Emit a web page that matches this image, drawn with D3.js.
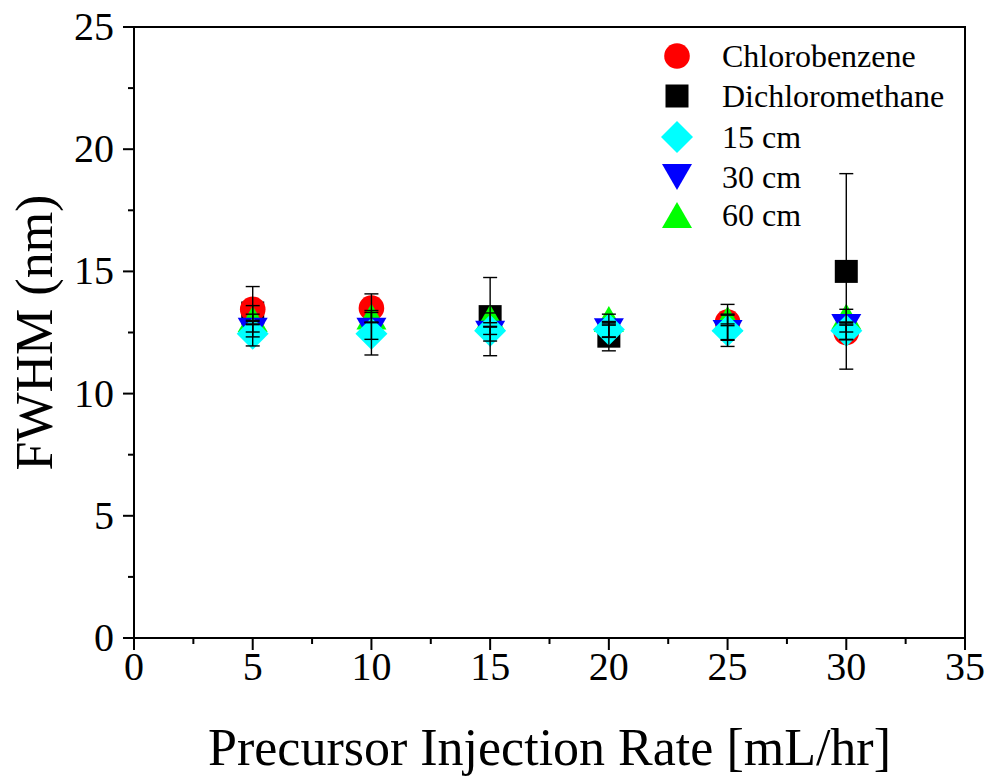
<!DOCTYPE html>
<html>
<head>
<meta charset="utf-8">
<script src="https://cdn.jsdelivr.net/npm/d3@7"></script>
<style>
  body { margin: 0; background: #fff; }
  svg { display: block; font-family: "Liberation Serif", "Times New Roman", serif; }
</style>
</head>
<body>
<div class="chart"></div>
<script>
// injection rates (mL/hr)
var rates = [5, 10, 15, 20, 25, 30];

// FWHM (nm) per series, null = no point
var chlorobenzene = [13.45, 13.5, null, null, 12.93, 12.5];
var dichloromethane = [13.3, null, 13.15, 12.35, null, 15.0];
var cm15 = [12.45, 12.45, 12.57, 12.62, 12.57, 12.57];
var cm30 = [12.57, 12.57, 12.45, 12.55, 12.48, 12.72];
var cm60 = [13.05, 13.15, 13.1, 13.05, 13.05, 13.15];

// error (±) per series
var chlorobenzeneErr = [0.93, 0.58, null, null, 0.72, 0.3];
var dichloromethaneErr = [0.3, null, 1.6, 0.6, null, 4.0];
var cm15Err = [0.5, 0.87, 0.15, 0.3, 0.64, 0.35];
var cm30Err = [0.25, 0.35, 0.3, 0.25, 0.3, 0.2];
var cm60Err = [0.2, 0.25, 0.2, 0.2, 0.2, 0.3];

var xTicks = [0, 5, 10, 15, 20, 25, 30, 35];
var yTicks = [0, 5, 10, 15, 20, 25];

var legendNames = ["Chlorobenzene", "Dichloromethane", "15 cm", "30 cm", "60 cm"];

var series = [
  {name: "Chlorobenzene", vals: chlorobenzene, err: chlorobenzeneErr, shape: "circle", color: "#ff0000"},
  {name: "Dichloromethane", vals: dichloromethane, err: dichloromethaneErr, shape: "square", color: "#000000"},
  {name: "15 cm", vals: cm15, err: cm15Err, shape: "diamond", color: "#00ffff"},
  {name: "30 cm", vals: cm30, err: cm30Err, shape: "down", color: "#0000ff"},
  {name: "60 cm", vals: cm60, err: cm60Err, shape: "up", color: "#00ff00"}
];
// drawing order (back to front)
var drawOrder = ["Dichloromethane", "Chlorobenzene", "60 cm", "30 cm", "15 cm"];

var width = 991, height = 776;
var margin = {top: 27, right: 26, bottom: 138, left: 134};

var svg = d3.select(".chart")
  .append("svg")
  .attr("width", width)
  .attr("height", height);

var x = d3.scaleLinear()
  .domain([0, 35])
  .range([margin.left, width - margin.right]);

var y = d3.scaleLinear()
  .domain([0, 25])
  .range([height - margin.bottom, margin.top]);

function shapePath(shape){
  if (shape == "circle"){
    return d3.symbol().type(d3.symbolCircle).size(Math.PI * 12.8 * 12.8)();
  } else if (shape == "square"){
    return "M-11.5,-11.5H11.5V11.5H-11.5Z";
  } else if (shape == "diamond"){
    return "M0,-16L16,0L0,16L-16,0Z";
  } else if (shape == "down"){
    return "M-15,-13H15L0,13Z";
  } else {
    return "M0,-13L15,13H-15Z";
  };
};

// minor ticks
var xMinor = d3.range(2.5, 35, 5);
var yMinor = d3.range(2.5, 25, 5);

var axes = svg.append("g").attr("class", "axes");

axes.selectAll(".xmaj")
  .data(xTicks)
  .enter()
  .append("line")
  .attr("x1", function(d){ return x(d); })
  .attr("x2", function(d){ return x(d); })
  .attr("y1", y(0))
  .attr("y2", y(0) + 12)
  .attr("stroke", "#000")
  .attr("stroke-width", 2);

axes.selectAll(".xmin")
  .data(xMinor)
  .enter()
  .append("line")
  .attr("x1", function(d){ return x(d); })
  .attr("x2", function(d){ return x(d); })
  .attr("y1", y(0))
  .attr("y2", y(0) + 6)
  .attr("stroke", "#000")
  .attr("stroke-width", 2);

axes.selectAll(".ymaj")
  .data(yTicks)
  .enter()
  .append("line")
  .attr("x1", x(0) - 11)
  .attr("x2", x(0))
  .attr("y1", function(d){ return y(d); })
  .attr("y2", function(d){ return y(d); })
  .attr("stroke", "#000")
  .attr("stroke-width", 2);

axes.selectAll(".ymin")
  .data(yMinor)
  .enter()
  .append("line")
  .attr("x1", x(0) - 6)
  .attr("x2", x(0))
  .attr("y1", function(d){ return y(d); })
  .attr("y2", function(d){ return y(d); })
  .attr("stroke", "#000")
  .attr("stroke-width", 2);

// frame
axes.append("rect")
  .attr("x", x(0))
  .attr("y", y(25))
  .attr("width", x(35) - x(0))
  .attr("height", y(0) - y(25))
  .attr("fill", "none")
  .attr("stroke", "#000")
  .attr("stroke-width", 2);

axes.selectAll(".xlab")
  .data(xTicks)
  .enter()
  .append("text")
  .attr("x", function(d){ return x(d); })
  .attr("y", y(0) + 42)
  .attr("text-anchor", "middle")
  .style("font-size", "40px")
  .text(function(d){ return d; });

axes.selectAll(".ylab")
  .data(yTicks)
  .enter()
  .append("text")
  .attr("x", x(0) - 20)
  .attr("y", function(d){ return y(d) + 13; })
  .attr("text-anchor", "end")
  .style("font-size", "40px")
  .text(function(d){ return d; });

svg.append("text")
  .attr("x", (x(0) + x(35)) / 2)
  .attr("y", 765)
  .attr("text-anchor", "middle")
  .style("font-size", "52px")
  .text("Precursor Injection Rate [mL/hr]");

svg.append("text")
  .attr("transform", "translate(52," + ((y(0) + y(25)) / 2) + ") rotate(-90)")
  .attr("text-anchor", "middle")
  .style("font-size", "52px")
  .text("FWHM (nm)");

// markers
var plot = svg.append("g").attr("class", "plot");

drawOrder.forEach(function(name){
  var s = series.filter(function(d){ return d.name == name; })[0];
  var pts = rates.map(function(r, i){
    return {x: r, y: s.vals[i], e: s.err[i]};
  }).filter(function(d){ return d.y != null; });

  plot.selectAll(".pt-" + s.shape)
    .data(pts)
    .enter()
    .append("path")
    .attr("transform", function(d){ return "translate(" + x(d.x) + "," + y(d.y) + ")"; })
    .attr("d", shapePath(s.shape))
    .attr("fill", s.color);
});

// error bars on top
var bars = svg.append("g").attr("class", "errorbars");
series.forEach(function(s){
  var pts = rates.map(function(r, i){
    return {x: r, y: s.vals[i], e: s.err[i]};
  }).filter(function(d){ return d.y != null && d.e != null; });

  var g = bars.selectAll(null)
    .data(pts)
    .enter()
    .append("g")
    .attr("stroke", "#000")
    .attr("stroke-width", 1.4);

  g.append("line")
    .attr("x1", function(d){ return x(d.x); })
    .attr("x2", function(d){ return x(d.x); })
    .attr("y1", function(d){ return y(d.y + d.e); })
    .attr("y2", function(d){ return y(d.y - d.e); });

  [1, -1].forEach(function(sign){
    g.append("line")
      .attr("x1", function(d){ return x(d.x) - 7; })
      .attr("x2", function(d){ return x(d.x) + 7; })
      .attr("y1", function(d){ return y(d.y + sign * d.e); })
      .attr("y2", function(d){ return y(d.y + sign * d.e); });
  });
});

// legend
var legend = svg.append("g").attr("class", "legend");
var rowY = [56, 96, 137, 177, 215];

legendNames.forEach(function(name, i){
  var s = series.filter(function(d){ return d.name == name; })[0];
  legend.append("path")
    .attr("transform", "translate(677," + rowY[i] + ")")
    .attr("d", shapePath(s.shape))
    .attr("fill", s.color);
  legend.append("text")
    .attr("x", 722)
    .attr("y", rowY[i] + 11)
    .style("font-size", "32px")
    .text(name);
});
</script>
</body>
</html>
